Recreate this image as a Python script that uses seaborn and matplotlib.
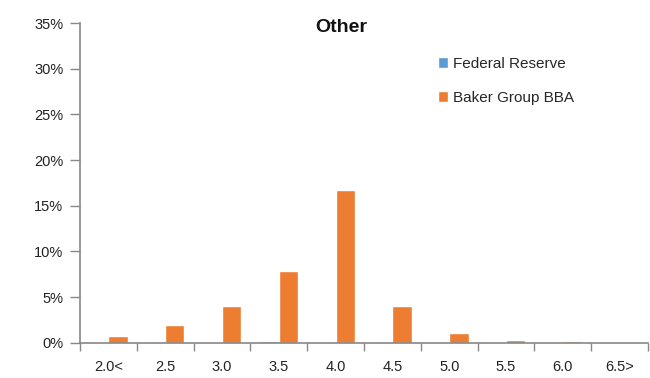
import matplotlib
matplotlib.use("Agg")
import matplotlib.pyplot as plt
import matplotlib.ticker as mticker
import numpy as np
import pandas as pd
import seaborn as sns

# Rate buckets and share of responses (%)
buckets = ["2.0<", "2.5", "3.0", "3.5", "4.0", "4.5", "5.0", "5.5", "6.0", "6.5>"]
fed_reserve = [0.0, 0.0, 0.12, 0.2, 0.0, 0.0, 0.0, 0.0, 0.0, 0.0]
baker_group = [0.8, 1.95, 4.0, 7.9, 16.7, 4.0, 1.05, 0.35, 0.15, 0.0]

df = pd.DataFrame({
    "bucket": buckets * 2,
    "value": fed_reserve + baker_group,
    "series": ["Federal Reserve"] * len(buckets) + ["Baker Group BBA"] * len(buckets),
})

sns.set_style("white", {"xtick.bottom": True, "ytick.left": True})
plt.rcParams["font.family"] = ["Liberation Sans", "DejaVu Sans"]

fig = plt.figure(figsize=(6.5, 3.78), dpi=100)
ax = fig.add_axes([0.123, 0.093, 0.874, 0.846])

sns.barplot(data=df, x="bucket", y="value", hue="series",
            palette={"Federal Reserve": "#5B9BD5", "Baker Group BBA": "#ED7D31"},
            width=0.68, saturation=1, ax=ax, errorbar=None)

ax.set_ylim(0, 35)
ax.set_xlim(-0.5, len(buckets) - 0.5)
ax.yaxis.set_major_locator(mticker.MultipleLocator(5))
ax.yaxis.set_major_formatter(mticker.FuncFormatter(lambda v, p: f"{v:.0f}%"))
ax.set_xticks(np.arange(len(buckets)))
ax.set_xticklabels(buckets)
ax.set_xticks(np.arange(-0.5, len(buckets)), minor=True)
ax.tick_params(axis="x", which="major", length=0, pad=12, labelsize=10.5, labelcolor="#222222")
ax.tick_params(axis="x", which="minor", bottom=True, length=6, width=1, color="#888888",
               direction="out")
ax.tick_params(axis="y", left=True, length=7, width=1, color="#888888", direction="out",
               labelsize=10.5, labelcolor="#222222", pad=5)
ax.set_xlabel("")
ax.set_ylabel("")

for s in ["top", "right"]:
    ax.spines[s].set_visible(False)
for s in ["left", "bottom"]:
    ax.spines[s].set_color("#888888")
    ax.spines[s].set_linewidth(1.2)

fig.text(341 / 650, 1 - 28 / 378, "Other", ha="center", va="center",
         fontsize=14, fontweight="bold", color="#111111")

handles, labels = ax.get_legend_handles_labels()
ax.legend(handles, labels, frameon=False, loc="upper left",
          bbox_to_anchor=(424 / 650, 1 - 43 / 378), bbox_transform=fig.transFigure,
          handlelength=0.7, handleheight=0.7, handletextpad=0.3,
          labelspacing=1.3, fontsize=11)

fig.savefig("out.png", dpi=100)
